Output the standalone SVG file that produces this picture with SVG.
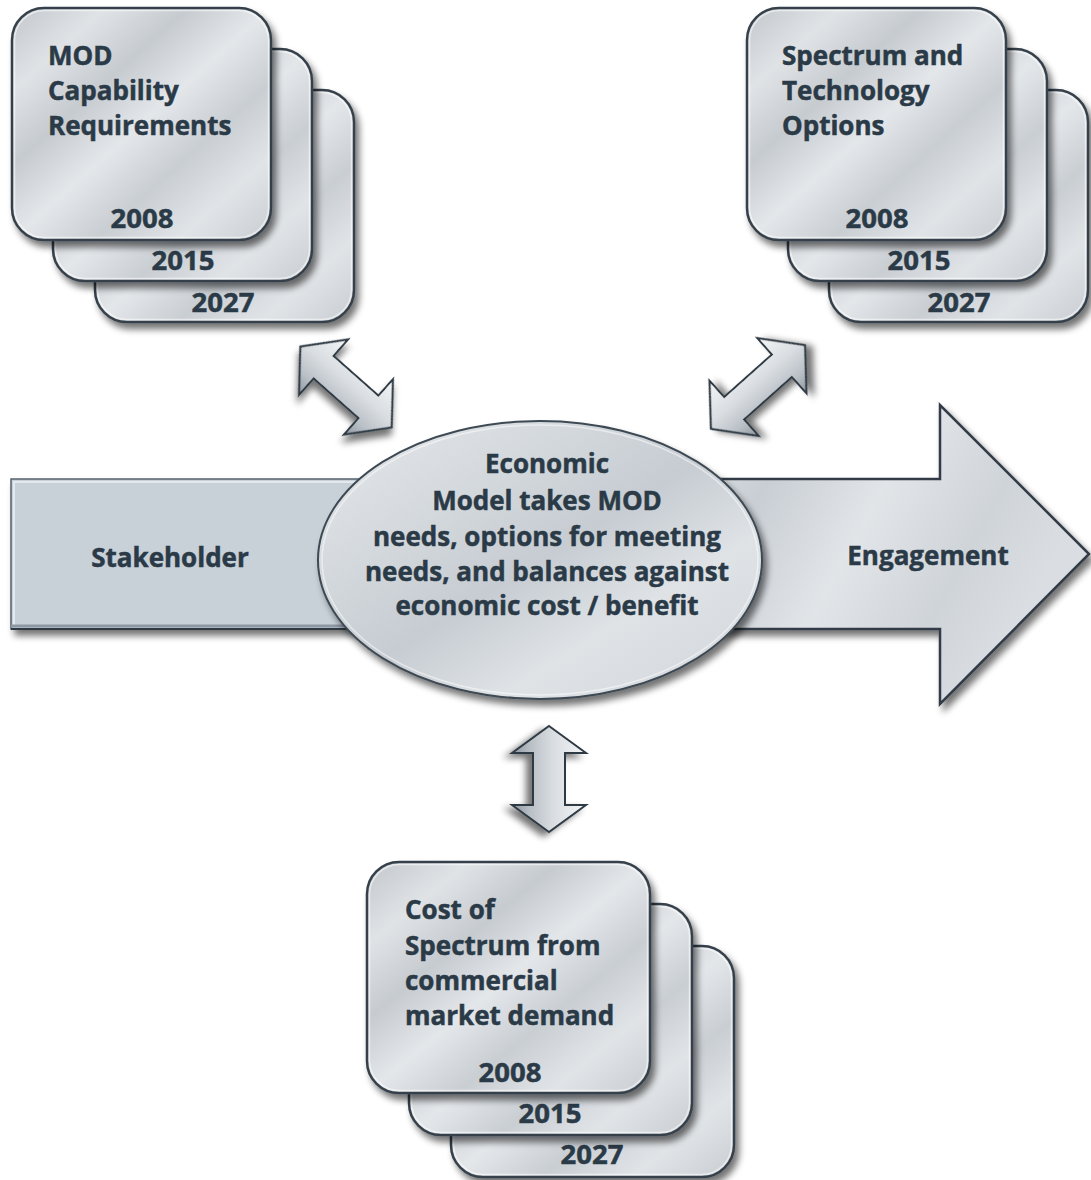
<svg xmlns="http://www.w3.org/2000/svg" width="1091" height="1180" viewBox="0 0 1091 1180">
<defs>
<linearGradient id="silver" x1="0" y1="0" x2="1" y2="1">
<stop offset="0" stop-color="#c2c7cc"/>
<stop offset="0.18" stop-color="#e0e3e6"/>
<stop offset="0.34" stop-color="#c6cbd0"/>
<stop offset="0.5" stop-color="#e4e7ea"/>
<stop offset="0.66" stop-color="#c9ced3"/>
<stop offset="0.82" stop-color="#e1e4e7"/>
<stop offset="1" stop-color="#c8cdd2"/>
</linearGradient>
<linearGradient id="ellGrad" x1="0" y1="0" x2="1" y2="1">
<stop offset="0" stop-color="#e6e9ec"/>
<stop offset="0.3" stop-color="#d3d8dc"/>
<stop offset="0.5" stop-color="#c6ccd2"/>
<stop offset="0.7" stop-color="#dfe3e6"/>
<stop offset="1" stop-color="#d0d5da"/>
</linearGradient>
<linearGradient id="bigArrowGrad" x1="0" y1="0" x2="1" y2="0.3">
<stop offset="0" stop-color="#c9cfd5"/>
<stop offset="0.3" stop-color="#dde1e5"/>
<stop offset="0.45" stop-color="#c8ced4"/>
<stop offset="0.65" stop-color="#e2e5e8"/>
<stop offset="0.85" stop-color="#cfd4d9"/>
<stop offset="1" stop-color="#dadee2"/>
</linearGradient>
<linearGradient id="arrGrad" x1="0" y1="0" x2="0" y2="1">
<stop offset="0" stop-color="#f4f6f7"/>
<stop offset="0.45" stop-color="#d9dde1"/>
<stop offset="0.75" stop-color="#b9c0c6"/>
<stop offset="1" stop-color="#8e969e"/>
</linearGradient>
<filter id="shadow" x="-20%" y="-20%" width="140%" height="140%">
<feGaussianBlur in="SourceAlpha" stdDeviation="3.5"/>
<feOffset dx="4" dy="6" result="b"/>
<feComponentTransfer><feFuncA type="linear" slope="0.55"/></feComponentTransfer>
<feMerge><feMergeNode/><feMergeNode in="SourceGraphic"/></feMerge>
</filter>
<style>
.card{fill:url(#silver);stroke:#36414b;stroke-width:2.5;filter:url(#shadow)}
.hi{fill:none;stroke:#ffffff;stroke-opacity:0.55;stroke-width:1.5}
.t{font-family:"Open Sans","Noto Sans","DejaVu Sans",sans-serif;font-weight:700;font-size:26px;fill:#2b3a47;stroke:#2b3a47;stroke-width:0.5}
.c{text-anchor:middle}
.y{font-size:27.5px}
.dbl{fill:url(#arrGrad);stroke:#2f3a44;stroke-width:2;stroke-linejoin:miter;filter:url(#shadow)}
</style>
</defs>

<g id="main-arrow">
<rect x="11" y="479" width="540" height="150" fill="#c8d0d8" stroke="#56616c" stroke-width="1.5" filter="url(#shadow)"/>
<line x1="13" y1="482" x2="551" y2="482" stroke="#e4e9ee" stroke-width="2"/>
<line x1="14" y1="482" x2="14" y2="626" stroke="#e4e9ee" stroke-width="2"/>
<line x1="11" y1="626" x2="551" y2="626" stroke="#8d98a3" stroke-width="3"/>
<line x1="11" y1="629" x2="551" y2="629" stroke="#2f3a45" stroke-width="2"/>
<path d="M540,479 L940,479 L940,405 L1089,554 L940,704 L940,629 L540,629 Z" fill="url(#bigArrowGrad)" stroke="#303b46" stroke-width="2.5" stroke-linejoin="miter" filter="url(#shadow)"/>
<text class="t c" x="170" y="567">Stakeholder</text>
<text class="t c" x="928" y="565">Engagement</text>
</g>

<g id="connectors">
<path class="dbl" transform="translate(346,387) rotate(41.5)" d="M-61,0 L-30,-37 L-30,-15 L30,-15 L30,-37 L61,0 L30,37 L30,15 L-30,15 L-30,37 Z"/>
<path class="dbl" transform="translate(758,387) rotate(-41.7)" d="M-63,0 L-32,-37 L-32,-15 L32,-15 L32,-37 L63,0 L32,37 L32,15 L-32,15 L-32,37 Z"/>
<path class="dbl" transform="translate(549,779) rotate(90)" d="M-53,0 L-26,-37 L-26,-16 L26,-16 L26,-37 L53,0 L26,37 L26,16 L-26,16 L-26,37 Z"/>
</g>

<g id="economic-model">
<ellipse cx="540" cy="560" rx="222" ry="139" fill="url(#ellGrad)" stroke="#3e4953" stroke-width="2" filter="url(#shadow)"/>
<ellipse cx="540" cy="560" rx="218" ry="135" fill="none" stroke="#ffffff" stroke-opacity="0.5" stroke-width="1.5"/>
<text class="t c" x="547" y="473">Economic</text>
<text class="t c" x="547" y="510">Model takes MOD</text>
<text class="t c" x="547" y="546">needs, options for meeting</text>
<text class="t c" x="547" y="581">needs, and balances against</text>
<text class="t c" x="547" y="615">economic cost / benefit</text>
</g>

<g id="mod-capability">
<rect class="card" x="95" y="90" width="259" height="232" rx="32"/>
<rect class="hi" x="97.5" y="92.5" width="254" height="227" rx="30"/>
<text class="t c y" x="223" y="312">2027</text>
<rect class="card" x="53" y="49" width="259" height="232" rx="32"/>
<rect class="hi" x="55.5" y="51.5" width="254" height="227" rx="30"/>
<text class="t c y" x="183" y="270">2015</text>
<rect class="card" x="12" y="8" width="259" height="232" rx="32"/>
<rect class="hi" x="14.5" y="10.5" width="254" height="227" rx="30"/>
<text class="t" x="48" y="65">MOD</text>
<text class="t" x="48" y="100">Capability</text>
<text class="t" x="48" y="135">Requirements</text>
<text class="t c y" x="142" y="228">2008</text>
</g>

<g id="spectrum-technology">
<rect class="card" x="829" y="90" width="259" height="232" rx="32"/>
<rect class="hi" x="831.5" y="92.5" width="254" height="227" rx="30"/>
<text class="t c y" x="959" y="312">2027</text>
<rect class="card" x="788" y="49" width="259" height="232" rx="32"/>
<rect class="hi" x="790.5" y="51.5" width="254" height="227" rx="30"/>
<text class="t c y" x="919" y="270">2015</text>
<rect class="card" x="747" y="8" width="259" height="232" rx="32"/>
<rect class="hi" x="749.5" y="10.5" width="254" height="227" rx="30"/>
<text class="t" x="782" y="65">Spectrum and</text>
<text class="t" x="782" y="100">Technology</text>
<text class="t" x="782" y="135">Options</text>
<text class="t c y" x="877" y="228">2008</text>
</g>

<g id="cost-of-spectrum">
<rect class="card" x="451" y="946" width="283" height="231" rx="32"/>
<rect class="hi" x="453.5" y="948.5" width="278" height="226" rx="30"/>
<text class="t c y" x="592" y="1164">2027</text>
<rect class="card" x="409" y="904" width="283" height="231" rx="32"/>
<rect class="hi" x="411.5" y="906.5" width="278" height="226" rx="30"/>
<text class="t c y" x="550" y="1123">2015</text>
<rect class="card" x="367" y="862" width="283" height="231" rx="32"/>
<rect class="hi" x="369.5" y="864.5" width="278" height="226" rx="30"/>
<text class="t" x="405" y="919">Cost of</text>
<text class="t" x="405" y="955">Spectrum from</text>
<text class="t" x="405" y="990">commercial</text>
<text class="t" x="405" y="1025">market demand</text>
<text class="t c y" x="510" y="1082">2008</text>
</g>
</svg>
